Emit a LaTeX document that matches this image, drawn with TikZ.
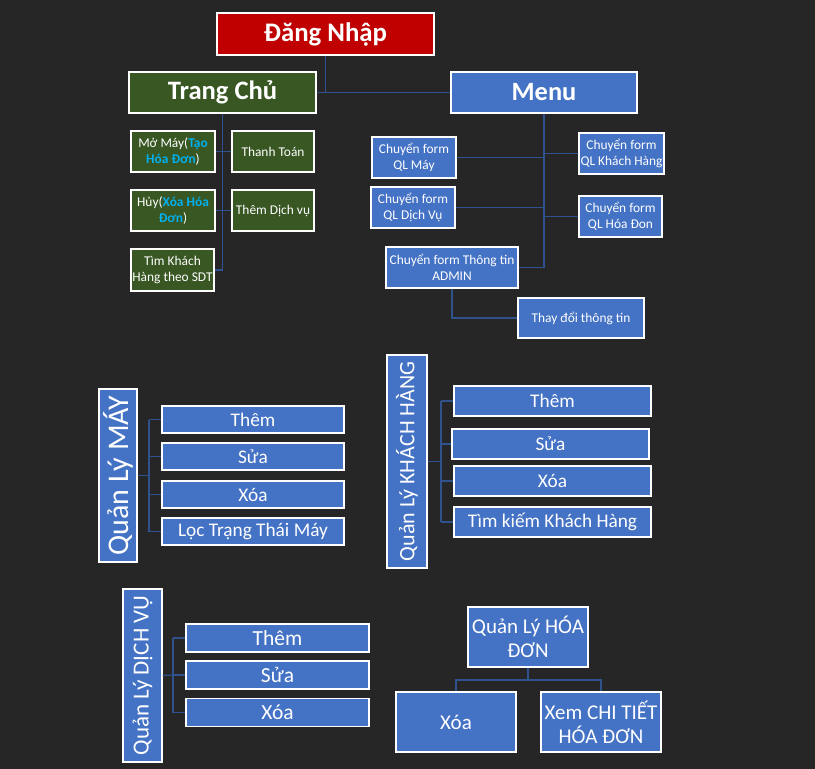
\documentclass[tikz,border=0pt]{standalone}
\usepackage{fontspec}
\setmainfont{Carlito}
\definecolor{bg}{HTML}{262626}
\definecolor{redbox}{HTML}{C00000}
\definecolor{greenbox}{HTML}{385723}
\definecolor{bluebox}{HTML}{4472C4}
\definecolor{linkc}{HTML}{2F528F}
\definecolor{cyantext}{HTML}{00B0F0}
\newcommand{\fs}[1]{\fontsize{#1pt}{\dimexpr #1pt*6/5\relax}\selectfont}
\tikzset{
  box/.style={draw=white, line width=1.1pt, inner sep=0pt, text=white, align=center},
  redb/.style={box, fill=redbox},
  greenb/.style={box, fill=greenbox},
  blueb/.style={box, fill=bluebox},
  link/.style={draw=linkc, line width=1.2pt},
  sz/.style 2 args={minimum width=#1pt, minimum height=#2pt},
}
\begin{document}
\begin{tikzpicture}[x=1pt,y=-1pt]
\fill[bg] (0,0) rectangle (815,769);
\useasboundingbox (0,0) rectangle (815,769);

% top level
\node[redb, sz={217}{42}, font=\fs{26.8}\bfseries] (dn) at (325.5,34) {Đăng Nhập};
\node[greenb, sz={187}{41}, font=\fs{26.6}\bfseries] (tc) at (222.5,92.5) {Trang Chủ};
\node[blueb, sz={186}{41}, font=\fs{26.4}\bfseries] (menu) at (544,92.5) {Menu};
\draw[link] (dn.south) -- (dn.south |- tc.east);
\draw[link] (tc.east) -- (menu.west);

% Trang Chu children
\tikzset{gsm/.style={greenb, sz={84}{41}, font=\fontsize{13.4pt}{16pt}\selectfont}}
\node[gsm] (g1) at (173,151.5) {Mở Máy(\textcolor{cyantext}{\bfseries Tạo}\\\textcolor{cyantext}{\bfseries Hóa Đơn})};
\node[gsm, sz={82}{41}] (g2) at (273,151.5) {Thanh Toán};
\node[gsm] (g3) at (173,210.5) {Hủy(\textcolor{cyantext}{\bfseries Xóa Hóa}\\\textcolor{cyantext}{\bfseries Đơn})};
\node[gsm, sz={82}{41}] (g4) at (273,210.5) {Thêm Dịch vụ};
\node[gsm, sz={83}{42}] (g5) at (172.5,270) {Tìm Khách\\Hàng theo SDT};
\draw[link] (tc.south) -- (tc.south |- g5.east) -- (g5.east);
\draw[link] (g1.east) -- (g2.west);
\draw[link] (g3.east) -- (g4.west);

% Menu children
\tikzset{bsm/.style={blueb, sz={84}{41}, font=\fontsize{13.4pt}{16pt}\selectfont}}
\node[bsm] (c1) at (414,157.5) {Chuyển form\\QL Máy};
\node[bsm, sz={85}{41}] (c2) at (621.5,153.5) {Chuyển form\\QL Khách Hàng};
\node[bsm] (c3) at (413,207.5) {Chuyển form\\QL Dịch Vụ};
\node[bsm, sz={83}{41}] (c4) at (620.5,216.5) {Chuyển form\\QL Hóa Đon};
\node[bsm, sz={132}{41}] (c5) at (452,267.5) {Chuyển form Thông tin\\ADMIN};
\node[bsm, sz={126}{40}] (c6) at (581,318) {Thay đổi thông tin};
\draw[link] (menu.south) -- (menu.south |- c5.east) -- (c5.east);
\draw[link] (c1.east) -- (menu.south |- c1.east);
\draw[link] (c3.east) -- (menu.south |- c3.east);
\draw[link] (c2.west) -- (menu.south |- c2.west);
\draw[link] (c4.west) -- (menu.south |- c4.west);
\draw[link] (c5.south) |- (c6.west);

% Quan Ly MAY
\node[blueb, rotate=90, minimum width=173pt, minimum height=38pt, font=\fs{30}] (qm) at (118,475.5) {Quản Lý MÁY};
\tikzset{mch/.style={blueb, sz={182}{27}, font=\fs{19.3}}}
\node[mch] (m1) at (253,419.5) {Thêm};
\node[mch] (m2) at (253,456.5) {Sửa};
\node[mch] (m3) at (253,494.5) {Xóa};
\node[mch] (m4) at (253,531.5) {Lọc Trạng Thái Máy};
\coordinate (mt) at (149,475.5);
\draw[link] (qm.south) -- (mt);
\draw[link] (mt |- m1.west) -- (mt |- m4.west);
\foreach \i in {1,2,3,4} { \draw[link] (mt |- m\i.west) -- (m\i.west); }

% Quan Ly KHACH HANG
\node[blueb, rotate=90, minimum width=213pt, minimum height=40pt, font=\fs{22}] (qk) at (407,461.5) {Quản Lý KHÁCH HÀNG};
\tikzset{kch/.style={blueb, sz={197}{30}, font=\fs{19.3}}}
\node[kch] (k1) at (552.5,401) {Thêm};
\node[kch] (k2) at (550.5,444) {Sửa};
\node[kch] (k3) at (552.5,481) {Xóa};
\node[kch] (k4) at (552.5,522) {Tìm kiếm Khách Hàng};
\coordinate (kt) at (441,461.5);
\draw[link] (qk.south) -- (kt);
\draw[link] (kt |- k1.west) -- (kt |- k4.west);
\foreach \i in {1,2,3,4} { \draw[link] (kt |- k\i.west) -- (k\i.west); }

% Quan Ly DICH VU
\node[blueb, rotate=90, minimum width=173pt, minimum height=39pt, font=\fs{23}] (qd) at (142.5,675.5) {Quản Lý DỊCH VỤ};
\tikzset{dch/.style={blueb, sz={183}{28}, font=\fs{21.5}}}
\node[dch] (d1) at (277.5,638) {Thêm};
\node[dch] (d2) at (277.5,675) {Sửa};
\node[dch] (d3) at (277.5,712.5) {Xóa};
\coordinate (dt) at (173,675);
\draw[link] (qd.south) -- (dt);
\draw[link] (dt |- d1.west) -- (dt |- d3.west);
\foreach \i in {1,2,3} { \draw[link] (dt |- d\i.west) -- (d\i.west); }

% Quan Ly HOA DON
\tikzset{hch/.style={blueb, sz={120}{60}, font=\fontsize{21pt}{24pt}\selectfont}}
\node[hch] (qh) at (528,637) {Quản Lý HÓA\\ĐƠN};
\node[hch] (h1) at (456,722) {Xóa};
\node[hch] (h2) at (601,722) {Xem CHI TIẾT\\HÓA ĐƠN};
\coordinate (hm) at (528,680);
\draw[link] (qh.south) -- (hm);
\draw[link] (h1.north) -- (h1.north |- hm) -- (h2.north |- hm) -- (h2.north);
\end{tikzpicture}
\end{document}
